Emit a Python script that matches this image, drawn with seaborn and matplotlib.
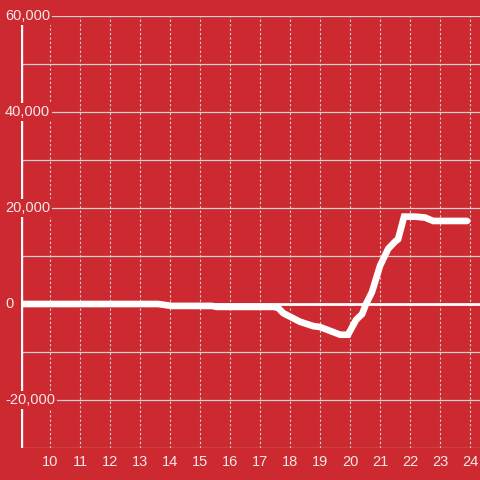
import numpy as np
import pandas as pd
import matplotlib
matplotlib.use("Agg")
import matplotlib.pyplot as plt
import matplotlib.transforms as mtransforms
import seaborn as sns

# values
hours = [9.0, 13.6, 14.05, 15.4, 15.55, 17.45, 17.6, 17.77, 18.33, 18.77, 19.0, 19.67,
         19.93, 20.2, 20.4, 20.53, 20.73, 21.0, 21.27, 21.5, 21.6, 21.8, 22.17, 22.5,
         22.77, 23.9]
values = [0, 0, -400, -400, -600, -600, -800, -1900, -3700, -4600, -4800, -6400,
          -6400, -3300, -2100, 0, 2500, 8000, 11500, 13000, 13500, 18200, 18200, 18000,
          17300, 17300]
x_ticks = list(range(10, 25))
y_ticks = [-20000, 0, 20000, 40000, 60000]
y_minor = [-30000, -10000, 10000, 30000, 50000]

bg = "#cc2a30"
fg = "#f6e8e8"
grid = "#d6d0d0"

df = pd.DataFrame({"hour": hours, "value": values})

sns.set_theme(style="white")
plt.rcParams["font.family"] = ["Liberation Sans", "DejaVu Sans"]

fig = plt.figure(figsize=(4.8, 4.8), dpi=100, facecolor=bg)
ax = fig.add_axes([21 / 480, 1 - 448 / 480, 1 - 21 / 480, 432 / 480])
ax.set_facecolor(bg)

sns.lineplot(data=df, x="hour", y="value", ax=ax, color="white", linewidth=4.8,
             zorder=4, solid_joinstyle="miter")
ax.axhline(0, color="white", linewidth=2, zorder=3)
ax.axvline(9.03, color="white", linewidth=2.4, zorder=1.5)

ax.set_xlim(9.03, 24.33)
ax.set_ylim(-30000, 60000)

ax.set_xticks(x_ticks)
ax.set_xticklabels([str(t) for t in x_ticks])
ax.set_yticks(y_ticks)
ax.set_yticklabels([])
ax.set_yticks(y_minor, minor=True)

ax.grid(axis="x", which="major", color=grid, linestyle=(0, (2, 2)), linewidth=0.8)
ax.grid(axis="y", which="both", color=grid, linestyle="-", linewidth=0.9)
ax.set_axisbelow(True)

ax.tick_params(axis="both", which="both", length=0, labelsize=10.5, labelcolor=fg)
ax.tick_params(axis="x", pad=5)

# y labels sit on top of the axis line with a red box behind them
trans = mtransforms.blended_transform_factory(ax.transAxes, ax.transData)
for t in y_ticks:
    ax.text(-16 / 459, t, f"{t:,}", transform=trans, ha="left", va="center",
            fontsize=10.5, color=fg, zorder=6, clip_on=False,
            bbox=dict(facecolor=bg, edgecolor="none", pad=1.2))

for s in ax.spines.values():
    s.set_visible(False)
ax.set_xlabel("")
ax.set_ylabel("")

fig.savefig("out.png", dpi=100, facecolor=bg)
